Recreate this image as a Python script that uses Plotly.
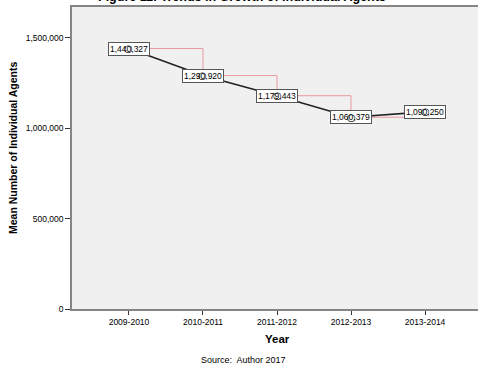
import plotly.graph_objects as go

# Mean number of individual agents per financial year
years = ["2009-2010", "2010-2011", "2011-2012", "2012-2013", "2013-2014"]
mean_agents = [1440327, 1290920, 1179443, 1060379, 1090250]
y_ticks = [0, 500000, 1000000, 1500000]
y_tick_text = ["0", "500,000", "1,000,000", "1,500,000"]

FONT = "Liberation Sans, Arial, sans-serif"
AXIS_GREY = "#858585"
PLOT_W = 406  # plot area width in px (478 - 72 left margin)
PLOT_H = 302  # plot area height in px

fig = go.Figure()

# step guide between consecutive means
fig.add_trace(go.Scatter(
    x=years, y=mean_agents, mode="lines",
    line=dict(color="#ea9aa0", width=1, shape="hv"),
    hoverinfo="skip", showlegend=False,
))

# trend line
fig.add_trace(go.Scatter(
    x=years, y=mean_agents, mode="lines",
    line=dict(color="#222222", width=1.6),
    showlegend=False,
))

annotations = []
for yr, v in zip(years, mean_agents):
    annotations.append(dict(
        x=yr, y=v, xref="x", yref="y", text=f"{v:,}", showarrow=False,
        font=dict(family=FONT, size=8.5, color="#000000"),
        bgcolor="#ffffff", bordercolor="#555555", borderwidth=1, borderpad=1,
    ))
    # point marker showing through the value box
    annotations.append(dict(
        x=yr, y=v, xref="x", yref="y", text="○", showarrow=False,
        font=dict(family="DejaVu Sans", size=10, color="#000000"),
    ))

annotations += [
    dict(text="<b>Figure 11: Trends in Growth of Individual Agents</b>",
         x=(242 - 72) / PLOT_W, xref="paper", xanchor="center",
         y=1, yref="paper", yanchor="bottom", yshift=1,
         showarrow=False, font=dict(family=FONT, size=12.5, color="#000000")),
    dict(text="<b>Mean Number of Individual Agents</b>", textangle=-90,
         x=(13 - 72) / PLOT_W, xref="paper", xanchor="center",
         y=(309 - 148) / PLOT_H, yref="paper", yanchor="middle",
         showarrow=False, font=dict(family=FONT, size=10.5, color="#000000")),
    dict(text="<b>Year</b>", x=2, xref="x", xanchor="center",
         y=-(339 - 309) / PLOT_H, yref="paper", yanchor="middle",
         showarrow=False, font=dict(family=FONT, size=11.5, color="#000000")),
    dict(text="Source:  Author 2017", x=(243 - 72) / PLOT_W, xref="paper",
         xanchor="center", y=-(360 - 309) / PLOT_H, yref="paper",
         yanchor="middle", showarrow=False,
         font=dict(family=FONT, size=9, color="#000000")),
]

fig.update_layout(
    width=478, height=370,
    margin=dict(l=72, r=0, t=7, b=61),
    paper_bgcolor="#ffffff", plot_bgcolor="#f0f0f0",
    font=dict(family=FONT, size=8.5, color="#000000"),
    annotations=annotations,
    showlegend=False,
)
fig.update_xaxes(
    type="category", range=[-0.77, 4.716],
    showline=True, linecolor=AXIS_GREY, linewidth=1.5, mirror=True,
    ticks="outside", ticklen=4, tickcolor="#333333", tickwidth=1,
    showgrid=False, zeroline=False,
    tickfont=dict(family=FONT, size=8.5, color="#000000"),
)
fig.update_yaxes(
    range=[0, 1670000],
    tickvals=y_ticks, ticktext=y_tick_text,
    showline=True, linecolor=AXIS_GREY, linewidth=1.5, mirror=False,
    ticks="outside", ticklen=5, tickcolor="#333333", tickwidth=1,
    showgrid=False, zeroline=False,
    tickfont=dict(family=FONT, size=8.5, color="#000000"),
)

fig.write_html("out.html")
